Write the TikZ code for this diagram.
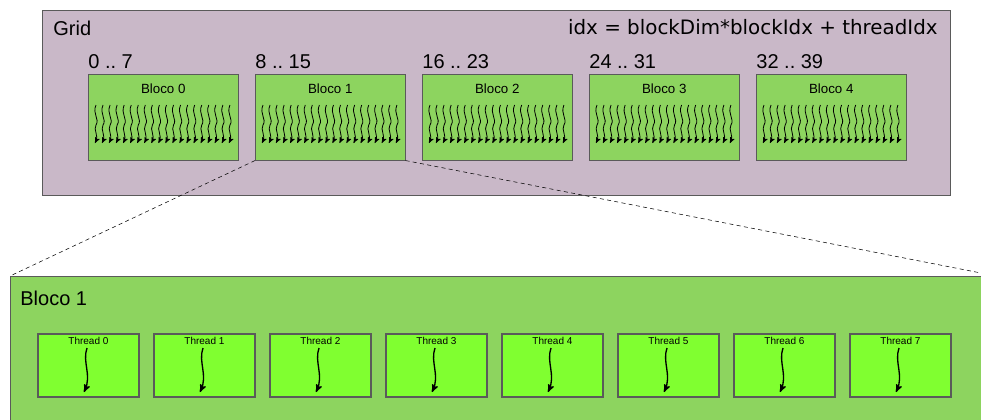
\documentclass[tikz,border=0pt]{standalone}
\usepackage{fontspec}
\setmainfont{Liberation Sans}
\newfontfamily\formulafont{DejaVu Sans}
\usetikzlibrary{arrows,positioning}

\definecolor{gridfill}{RGB}{201,184,200}
\definecolor{blockfill}{RGB}{141,212,95}
\definecolor{threadfill}{RGB}{128,255,48}
\definecolor{edgegray}{RGB}{90,90,90}

\begin{document}
\begin{tikzpicture}[x=0.75pt,y=-0.75pt,>=stealth',semithick]
\tikzstyle{gridbox}=[draw=edgegray,fill=gridfill,thin,minimum width=681pt,minimum height=138.75pt,anchor=north west,inner sep=0pt]
\tikzstyle{blockbox}=[draw=edgegray,fill=blockfill,thin,minimum width=112.5pt,minimum height=64.5pt,anchor=north west,inner sep=0pt]
\tikzstyle{threadbox}=[draw=edgegray,fill=threadfill,line width=1.4pt,minimum width=75.75pt,minimum height=47.25pt,anchor=north west,inner sep=0pt]
\tikzstyle{bigtext}=[font=\fontsize{15}{17}\selectfont,inner sep=0pt]
\tikzstyle{wavy}=[->,black,line width=0.6pt]
\tikzstyle{zoomline}=[dash pattern=on 3pt off 2.5pt,thin]
\clip (0,0) rectangle (981,419);
% the grid
\node[gridbox] (grid) at (42,10) {};
\node[bigtext,anchor=west] (gridlbl) at (53,28) {Grid};
\node[bigtext,font=\formulafont\fontsize{14.9}{17}\selectfont,anchor=east] (formula) at (938,27) {idx = blockDim*blockIdx + threadIdx};
% blocks of the grid
\foreach \i/\lo/\hi in {0/0/7,1/8/15,2/16/23,3/24/31,4/32/39} {
  \node[blockbox] (b\i) at (88+167*\i,74) {};
  \node[font=\fontsize{10}{12}\selectfont,below=4pt of b\i.north] (bl\i) {Bloco \i};
  \node[bigtext,anchor=south west] (r\i) at ([yshift=4pt]b\i.north west) {\lo\ ..\ \hi};
  \foreach \k in {0,...,19} {
    \pgfmathsetmacro{\xx}{96+167*\i+7.05*\k}
    \draw[wavy] (\xx,105) .. controls (\xx-4,114) and (\xx+4,119) .. (\xx,125) .. controls (\xx-3,130) and (\xx+3,135) .. (\xx-1,143);
  }
}
% block 1 in detail
\node[draw=edgegray,fill=blockfill,thin,minimum width=741pt,minimum height=120pt,anchor=north west,inner sep=0pt] (big) at (10,276) {};
\coordinate (bigne) at (981,273);
\node[bigtext,anchor=west] (biglbl) at (20,298) {Bloco 1};
\draw[zoomline] (b1.south west) -- (big.north west);
\draw[zoomline] (b1.south east) -- (bigne);
% threads
\foreach \t in {0,...,7} {
  \node[threadbox] (t\t) at (37+116*\t,333) {};
  \node[font=\fontsize{7.5}{9}\selectfont,inner sep=0pt,anchor=north] (tl\t) at ([yshift=-3pt]t\t.north) {Thread \t};
  \draw[wavy,line width=1pt] (87+116*\t,348) .. controls (82+116*\t,362) and (92+116*\t,375) .. (84+116*\t,392);
}
\end{tikzpicture}
\end{document}
